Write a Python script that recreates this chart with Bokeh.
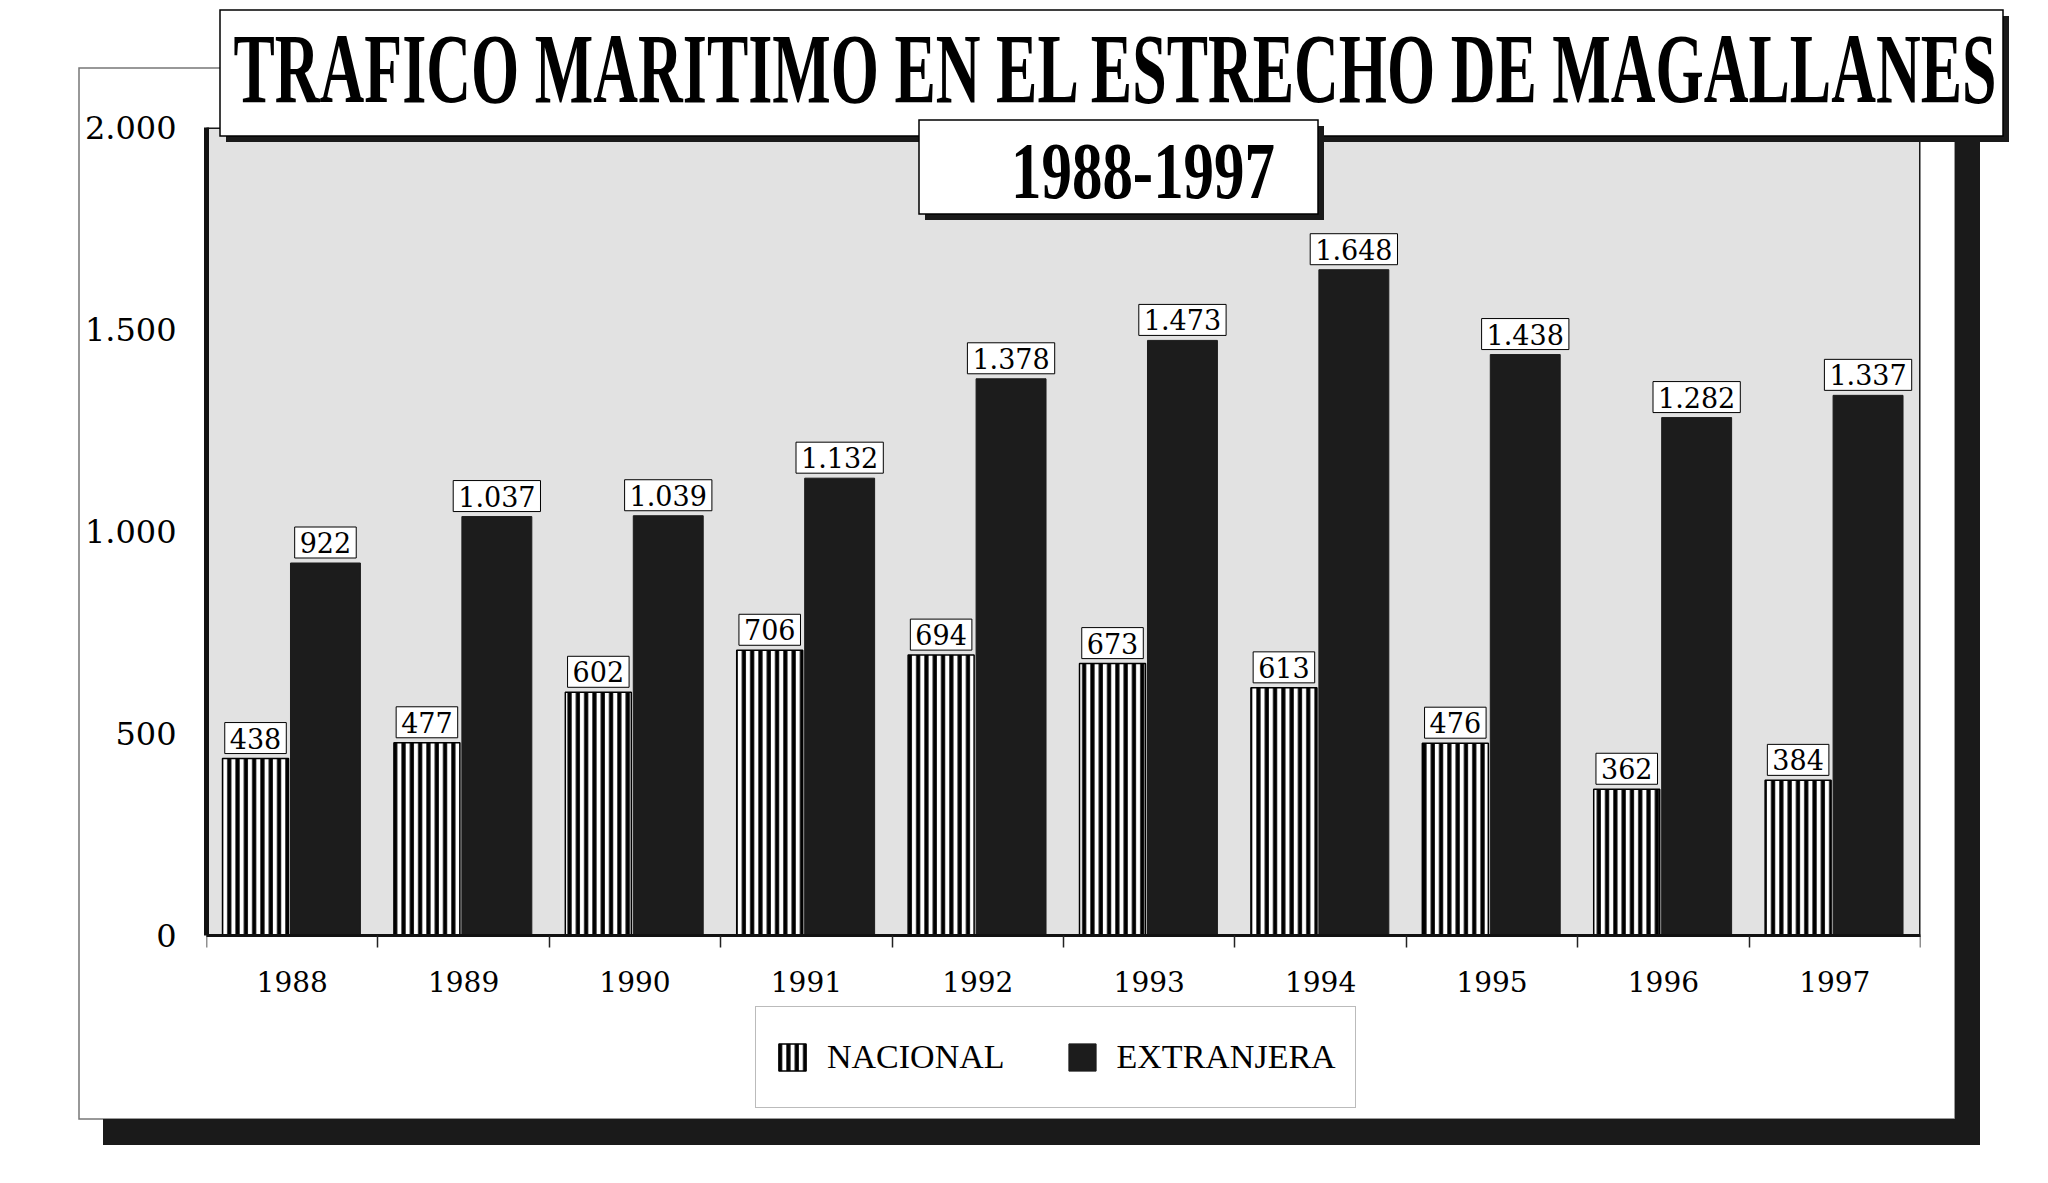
from bokeh.plotting import figure
from bokeh.models import (Range1d, FixedTicker, ColumnDataSource, Legend, LegendItem,
                          BoxAnnotation, Div)
from bokeh.layouts import column
from bokeh.transform import dodge
from bokeh.core.properties import value
from bokeh.embed import file_html
from bokeh.resources import INLINE

# ---------------- data ----------------
years = ["1988", "1989", "1990", "1991", "1992", "1993", "1994", "1995", "1996", "1997"]
nacional = [438, 477, 602, 706, 694, 673, 613, 476, 362, 384]
extranjera = [922, 1037, 1039, 1132, 1378, 1473, 1648, 1438, 1282, 1337]
y_ticks = [0, 500, 1000, 1500, 2000]
y_max = 2000
series_names = ["NACIONAL", "EXTRANJERA"]
title_text = "TRAFICO MARITIMO EN EL ESTRECHO DE MAGALLANES"
subtitle_text = "1988-1997"


def fmt(v):
    return f"{v:,}".replace(",", ".")


# ---------------- layout constants (page pixels) ----------------
W, H = 2040, 1176
FR_L, FR_R, FR_T = 206, 1920, 127      # plot area left/right/top
AX_Y = 935                              # x-axis (value 0) position
FR_B = 1112                             # frame extends below the axis to hold the legend
DARK = "#1a1a1a"

n = len(years)
centers = list(range(n))

# value range extended downward so that 0 sits at AX_Y
y_start = y_max - (FR_B - FR_T) * y_max / (AX_Y - FR_T)

NAC_STYLE = dict(fill_color="white", hatch_pattern="|", hatch_color="black",
                 hatch_scale=8.3, hatch_weight=4.2, line_color="black", line_width=1.5)
EXT_STYLE = dict(fill_color="#1c1c1c", line_color="#1c1c1c", line_width=1)

# ================= chart =================
p = figure(frame_width=FR_R - FR_L, frame_height=FR_B - FR_T,
           output_backend="svg", toolbar_location=None, title=None,
           x_range=Range1d(-0.5, n - 0.5), y_range=Range1d(y_start, y_max),
           min_border_left=FR_L, min_border_right=W - FR_R,
           min_border_top=FR_T, min_border_bottom=H - FR_B)
p.grid.visible = False
p.background_fill_color = "white"
p.border_fill_color = "white"
p.outline_line_color = None

# grey plotting wall with dark border
p.add_layout(BoxAnnotation(left=-0.5, right=n - 0.5, bottom=0, top=y_max, level="underlay",
                           fill_color="#e2e2e2", fill_alpha=1,
                           line_color=DARK, line_width=3, line_alpha=1))

src = ColumnDataSource(dict(
    x=centers, year=years, nac=nacional, ext=extranjera,
    nac_lbl=[fmt(v) for v in nacional], ext_lbl=[fmt(v) for v in extranjera]))

NAC_D, NAC_W = -0.214, 0.385
EXT_D, EXT_W = 0.194, 0.408

r_nac = p.vbar(x=dodge("x", NAC_D), top="nac", bottom=0, width=NAC_W, source=src, **NAC_STYLE)
r_ext = p.vbar(x=dodge("x", EXT_D), top="ext", bottom=0, width=EXT_W, source=src, **EXT_STYLE)

for dx, col, lbl in [(NAC_D, "nac", "nac_lbl"), (EXT_D, "ext", "ext_lbl")]:
    p.text(x=dodge("x", dx), y=col, text=lbl, source=src,
           text_font=value("DejaVu Serif"), text_font_size="27px", text_color="black",
           text_align="center", text_baseline="bottom", y_offset=-5,
           background_fill_color="white", border_line_color="black",
           border_line_width=1, padding=5)

# axes
p.yaxis.ticker = FixedTicker(ticks=y_ticks)
p.yaxis.bounds = (0, y_max)
p.yaxis.major_label_overrides = {t: fmt(t) for t in y_ticks}
p.yaxis.axis_line_width = 5
p.yaxis.axis_line_color = "#111111"
p.yaxis.major_tick_line_color = None
p.yaxis.minor_tick_line_color = None
p.yaxis.major_tick_out = 0
p.yaxis.major_label_standoff = 30
p.yaxis.major_label_text_font = "DejaVu Serif"
p.yaxis.major_label_text_font_size = "32px"
p.yaxis.major_label_text_color = "black"

p.xaxis.fixed_location = 0
p.xaxis.bounds = (-0.5, n - 0.5)
p.xaxis.ticker = FixedTicker(ticks=centers, minor_ticks=[c - 0.5 for c in centers] + [n - 0.5])
p.xaxis.major_label_overrides = {c: y for c, y in zip(centers, years)}
p.xaxis.axis_line_width = 3
p.xaxis.axis_line_color = "#111111"
p.xaxis.major_tick_line_color = None
p.xaxis.major_tick_out = 0
p.xaxis.major_tick_in = 0
p.xaxis.minor_tick_line_color = "#222222"
p.xaxis.minor_tick_line_width = 1.5
p.xaxis.minor_tick_out = 12
p.xaxis.minor_tick_in = 0
p.xaxis.major_label_standoff = 23
p.xaxis.major_label_text_font = "DejaVu Serif"
p.xaxis.major_label_text_font_size = "28px"
p.xaxis.major_label_text_color = "black"

LEG_L, LEG_B = 755, 1108
legend = Legend(items=[LegendItem(label=series_names[0], renderers=[r_nac]),
                       LegendItem(label=series_names[1], renderers=[r_ext])],
                orientation="horizontal", location=(LEG_L - FR_L, FR_B - LEG_B),
                label_text_font="Liberation Serif", label_text_font_size="34px",
                label_text_color="black",
                glyph_width=34, glyph_height=34, label_standoff=18, spacing=60,
                padding=19, label_height=62, margin=0,
                border_line_color="#777777", border_line_width=1.5,
                background_fill_color="white", background_fill_alpha=1)
p.add_layout(legend)


# ================= decorations: outer frame, shadow and title boxes =================
def rect(x0, y0, x1, y1, fill, stroke="none", sw=0):
    return (f'<rect x="{x0}" y="{y0}" width="{x1 - x0}" height="{y1 - y0}" '
            f'fill="{fill}" stroke="{stroke}" stroke-width="{sw}"/>')


def text(cx, base, width, size, stretch, s):
    # bold serif, drawn at its natural width and stretched vertically like the original
    return (f'<text x="0" y="0" transform="translate({cx},{base}) scale(1,{stretch})" '
            f'text-anchor="middle" textLength="{width}" lengthAdjust="spacingAndGlyphs" '
            f'fill="black" style="font-family:\'Liberation Serif\',serif;'
            f'font-weight:bold;font-size:{size}px">{s}</text>')


svg = "".join([
    f'<svg xmlns="http://www.w3.org/2000/svg" width="{W}" height="{H}" '
    f'style="position:absolute;left:0;top:0;overflow:visible">',
    rect(74, 63, 1950, 1114, "none", "#777777", 1.5),
    rect(1950, 89, 1975, 1140, DARK),
    rect(98, 1114, 1975, 1140, DARK),
    rect(221, 11, 2004, 137, DARK),
    rect(215, 5, 1998, 131, "white", "black", 1.5),
    text(1110, 97, 1763, 62, 1.6, title_text),
    rect(920, 121, 1319, 215, DARK),
    rect(914, 115, 1313, 209, "white", "black", 1.5),
    text(1138, 193, 264, 62, 1.28, subtitle_text),
    "</svg>",
])

deco = Div(text=svg, width=W, height=H,
           styles={"position": "absolute", "left": "0px", "top": "0px",
                   "z-index": "10", "pointer-events": "none", "overflow": "visible"})

layout = column(p, deco)
open("out.html", "w").write(file_html(layout, INLINE))
